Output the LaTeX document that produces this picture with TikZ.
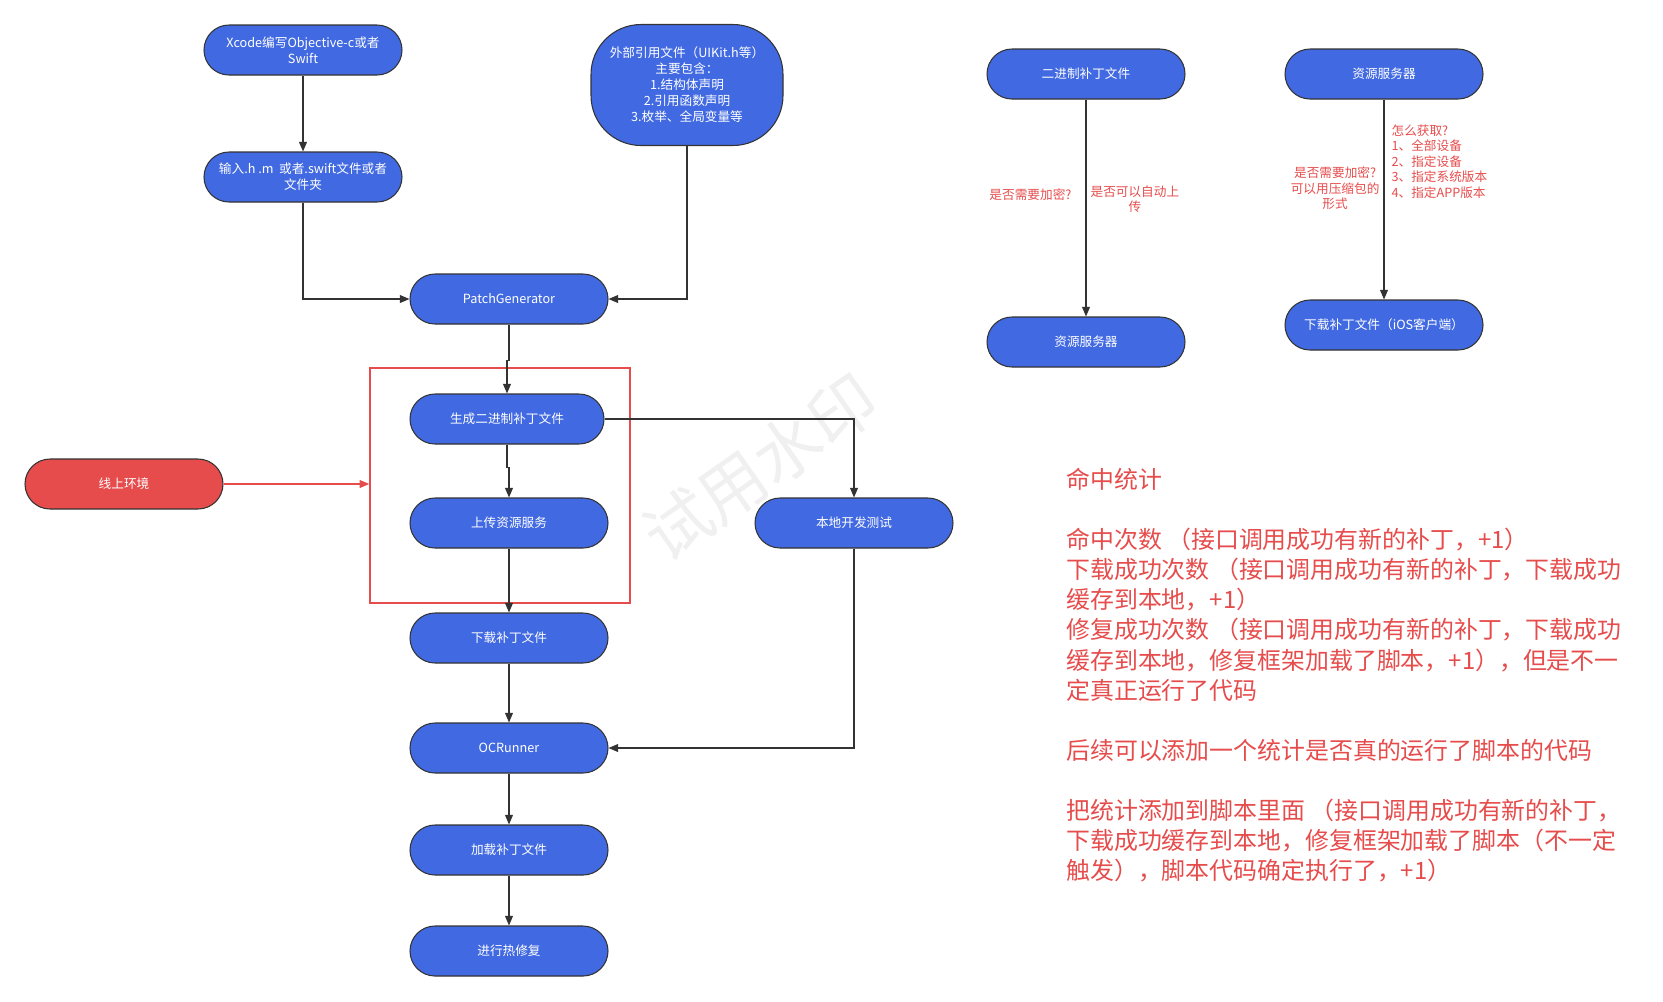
\documentclass[tikz,border=0pt]{standalone}
\usepackage{fontspec}
\setmainfont{Noto Sans CJK SC}
\usepackage{tikz}
\usetikzlibrary{positioning,arrows.meta}
\definecolor{flowblue}{HTML}{4169E1}
\definecolor{flowred}{HTML}{E64C4C}
\definecolor{flowline}{HTML}{333333}

\begin{document}
\begin{tikzpicture}[
    proc/.style={draw=flowline, line width=0.6pt, rounded corners=0.5cm, fill=#1, text=white, minimum width=3.96cm, minimum height=1.0cm, align=center, font=\fontsize{7.2}{9.1}\selectfont, inner sep=2pt},
    proc/.default=flowblue,
    arrow/.style={-{Triangle[length=5.5pt,width=4.5pt]}, line width=0.7pt, color=#1},
    arrow/.default=flowline,
    lbl/.style={font=\fontsize{7.2}{8.8}\selectfont, text=flowred, align=center, inner sep=0pt},
]
\useasboundingbox (0,0) rectangle (33.26,-20.02);

\node[rotate=35, text=black!6, font=\fontsize{38}{38}\selectfont] (mark) at (15.2,-9.35) {试用水印};

% main flow
\node[proc] (xcode) at (6.06,-1.00) {Xcode编写Objective-c或者\\Swift};
\node[proc] (input) at (6.06,-3.54) {输入.h .m \ 或者.swift文件或者\\文件夹};
\node[proc, minimum width=3.84cm, minimum height=2.42cm, rounded corners=1cm] (ext) at (13.74,-1.70) {外部引用文件（UIKit.h等）\\主要包含：\\1.结构体声明\\2.引用函数声明\\3.枚举、全局变量等};
\node[proc] (pg) at (10.18,-5.98) {PatchGenerator};
\node[proc, minimum width=3.88cm] (gen) at (10.14,-8.38) {生成二进制补丁文件};
\node[proc] (upload) at (10.18,-10.46) {上传资源服务};
\node[proc] (dl) at (10.18,-12.76) {下载补丁文件};
\node[proc] (ocr) at (10.18,-14.96) {OCRunner};
\node[proc] (load) at (10.18,-17.00) {加载补丁文件};
\node[proc] (fix) at (10.18,-19.02) {进行热修复};
\node[proc=flowred] (online) at (2.48,-9.68) {线上环境};
\node[proc] (local) at (17.08,-10.46) {本地开发测试};
\node[draw=flowred, line width=0.85pt, minimum width=5.2cm, minimum height=4.7cm] (redbox) at (10.00,-9.71) {};

\draw[arrow] (xcode) -- (input);
\draw[arrow] (input.south) |- (pg.west);
\draw[arrow] (ext.south) |- (pg.east);
\draw[arrow] (pg.south) -- ++(0,-0.72) -| (gen.north);
\draw[arrow] (gen.south) -- ++(0,-0.46) -| (upload.north);
\draw[arrow] (gen.east) -| (local.north);
\draw[arrow] (upload) -- (dl);
\draw[arrow] (dl) -- (ocr);
\draw[arrow] (local.south) |- (ocr.east);
\draw[arrow] (ocr) -- (load);
\draw[arrow] (load) -- (fix);
\draw[arrow=flowred] (online.east) -- (online.east -| redbox.west);

% upload / download
\node[proc] (bin) at (21.72,-1.48) {二进制补丁文件};
\node[proc] (srva) at (21.72,-6.84) {资源服务器};
\node[proc] (srvb) at (27.68,-1.48) {资源服务器};
\node[proc] (ios) at (27.68,-6.50) {下载补丁文件（iOS客户端）};

\draw[arrow] (bin) -- node[lbl, pos=0.44, anchor=east, xshift=-0.28cm] {是否需要加密?}
    node[lbl, pos=0.46, anchor=west, xshift=0.08cm] {是否可以自动上\\传} (srva);
\draw[arrow] (srvb) -- node[lbl, pos=0.445, anchor=east, xshift=-0.08cm] {是否需要加密?\\可以用压缩包的\\形式}
    node[lbl, pos=0.31, anchor=west, xshift=0.14cm, align=left] {怎么获取?\\1、全部设备\\2、指定设备\\3、指定系统版本\\4、指定APP版本} (ios);

% statistics
\node[anchor=north west, inner sep=0pt, text=flowred, align=left, font=\fontsize{13.6}{17.1}\selectfont] (stats) at (21.32,-9.36) {命中统计\\[17.1pt]
命中次数 （接口调用成功有新的补丁，+1）\\
下载成功次数 （接口调用成功有新的补丁，下载成功\\
缓存到本地，+1）\\
修复成功次数 （接口调用成功有新的补丁，下载成功\\
缓存到本地，修复框架加载了脚本，+1），但是不一\\
定真正运行了代码\\[17.1pt]
后续可以添加一个统计是否真的运行了脚本的代码\\[17.1pt]
把统计添加到脚本里面 （接口调用成功有新的补丁，\\
下载成功缓存到本地，修复框架加载了脚本（不一定\\
触发），脚本代码确定执行了，+1）};

\end{tikzpicture}
\end{document}
